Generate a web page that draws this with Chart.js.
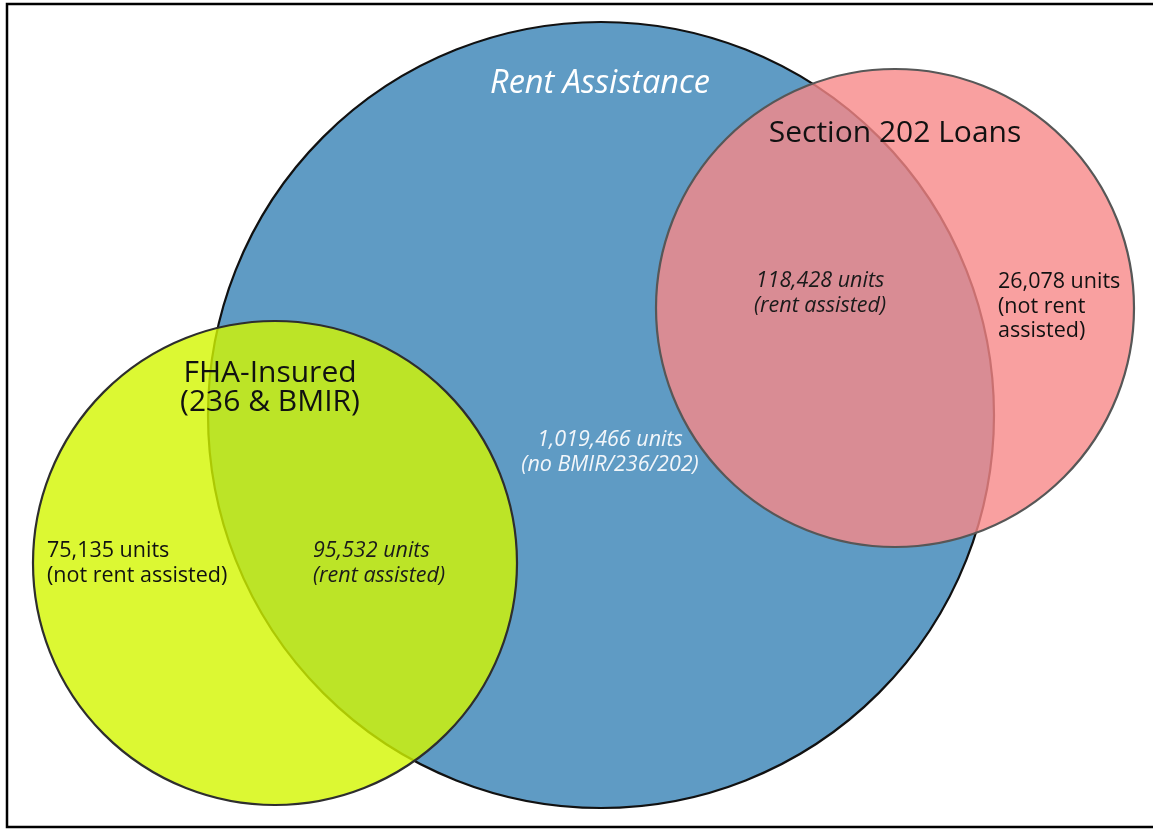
<!DOCTYPE html>
<html>
<head>
<meta charset="utf-8">
<script src="https://cdn.jsdelivr.net/npm/chart.js@4.4.1/dist/chart.umd.min.js"></script>
<style>
  html, body { margin: 0; padding: 0; background: #fff; }
  #wrap { width: 1153px; height: 829px; position: relative; }
</style>
</head>
<body>
<div id="wrap"><canvas id="vennChart"></canvas></div>
<script>
// venn sets, laid out on a 1153 x 829 unit plane
const setNames = ['Rent Assistance', 'Section 202 Loans', 'FHA-Insured (236 & BMIR)']
const setX = [601, 895, 275]
const setY = [415, 308, 563]
const setRadius = [393, 239, 242]
const setFill = ['#5f9bc4', 'rgba(247,136,136,0.8)', 'rgba(211,246,0,0.8)']
const setBorder = ['#111111', '#575757', '#2e2e2e']

// region counts and their label spots
const regionText = [
  ['1,019,466 units', '(no BMIR/236/202)'],
  ['118,428 units', '(rent assisted)'],
  ['26,078 units', '(not rent', 'assisted)'],
  ['95,532 units', '(rent assisted)'],
  ['75,135 units', '(not rent assisted)']
]
const regionX = [610, 820, 998, 313, 47]
const regionY = [440, 281, 282, 551, 551]
const regionAlign = ['center', 'center', 'left', 'left', 'left']
const regionItalic = [true, true, false, true, false]
const regionColor = ['#f2f6fa', '#1a1a1a', '#111', '#1a1a1a', '#111']

// set titles
const titleText = [['Rent Assistance'], ['Section 202 Loans'], ['FHA-Insured', '(236 & BMIR)']]
const titleX = [600, 895, 270]
const titleY = [84, 133, 373]
const titleSize = [32.5, 30, 30]
const titleItalic = [true, false, false]
const titleColor = ['#ffffff', '#111', '#111']

const FONT = '"Open Sans", "Noto Sans", sans-serif'

const labelPlugin = {
  id: 'vennLabels',
  beforeDraw(chart) {
    const c = chart.ctx
    c.save()
    c.fillStyle = '#ffffff'
    c.fillRect(0, 0, chart.width, chart.height)
    c.restore()
  },
  afterDraw(chart) {
    const c = chart.ctx
    const xs = chart.scales.x, ys = chart.scales.y
    c.save()
    c.textBaseline = 'middle'
    // titles
    titleText.forEach((lines, i) => {
      c.font = (titleItalic[i] ? 'italic ' : '') + titleSize[i] + 'px ' + FONT
      c.fillStyle = titleColor[i]
      c.textAlign = 'center'
      lines.forEach((t, j) => {
        c.fillText(t, xs.getPixelForValue(titleX[i]), ys.getPixelForValue(titleY[i] + j * 29))
      })
    })
    // region counts
    regionText.forEach((lines, i) => {
      c.font = (regionItalic[i] ? 'italic ' : '') + '21.5px ' + FONT
      c.fillStyle = regionColor[i]
      c.textAlign = regionAlign[i]
      lines.forEach((t, j) => {
        c.fillText(t, xs.getPixelForValue(regionX[i]), ys.getPixelForValue(regionY[i] + j * 24.5))
      })
    })
    // frame
    c.strokeStyle = '#000'
    c.lineWidth = 2.5
    c.strokeRect(7, 4, chart.width + 20, 823)
    c.restore()
  }
}

const ctx = document.getElementById('vennChart')

const chart = new Chart(ctx, {
  type: 'bubble',
  data: {
    datasets: setNames.map((name, i) => ({
      label: name,
      data: [{ x: setX[i], y: setY[i], r: 1 }],
      backgroundColor: setFill[i],
      borderColor: setBorder[i],
      borderWidth: 2.2,
      order: 3 - i,
      clip: false
    }))
  },
  options: {
    responsive: true,
    maintainAspectRatio: false,
    animation: false,
    events: [],
    layout: { padding: 0, autoPadding: false },
    plugins: { legend: { display: false }, tooltip: { enabled: false } },
    scales: {
      x: { type: 'linear', min: 0, max: 1153, display: false },
      y: { type: 'linear', min: 0, max: 829, reverse: true, display: false }
    }
  },
  plugins: [labelPlugin]
});

// bubble radius is in pixels, so size each circle through the x scale
const xs = chart.scales.x
chart.data.datasets.forEach((d, i) => {
  d.data[0].r = xs.getPixelForValue(setRadius[i]) - xs.getPixelForValue(0)
})
chart.update()
</script>
</body>
</html>
